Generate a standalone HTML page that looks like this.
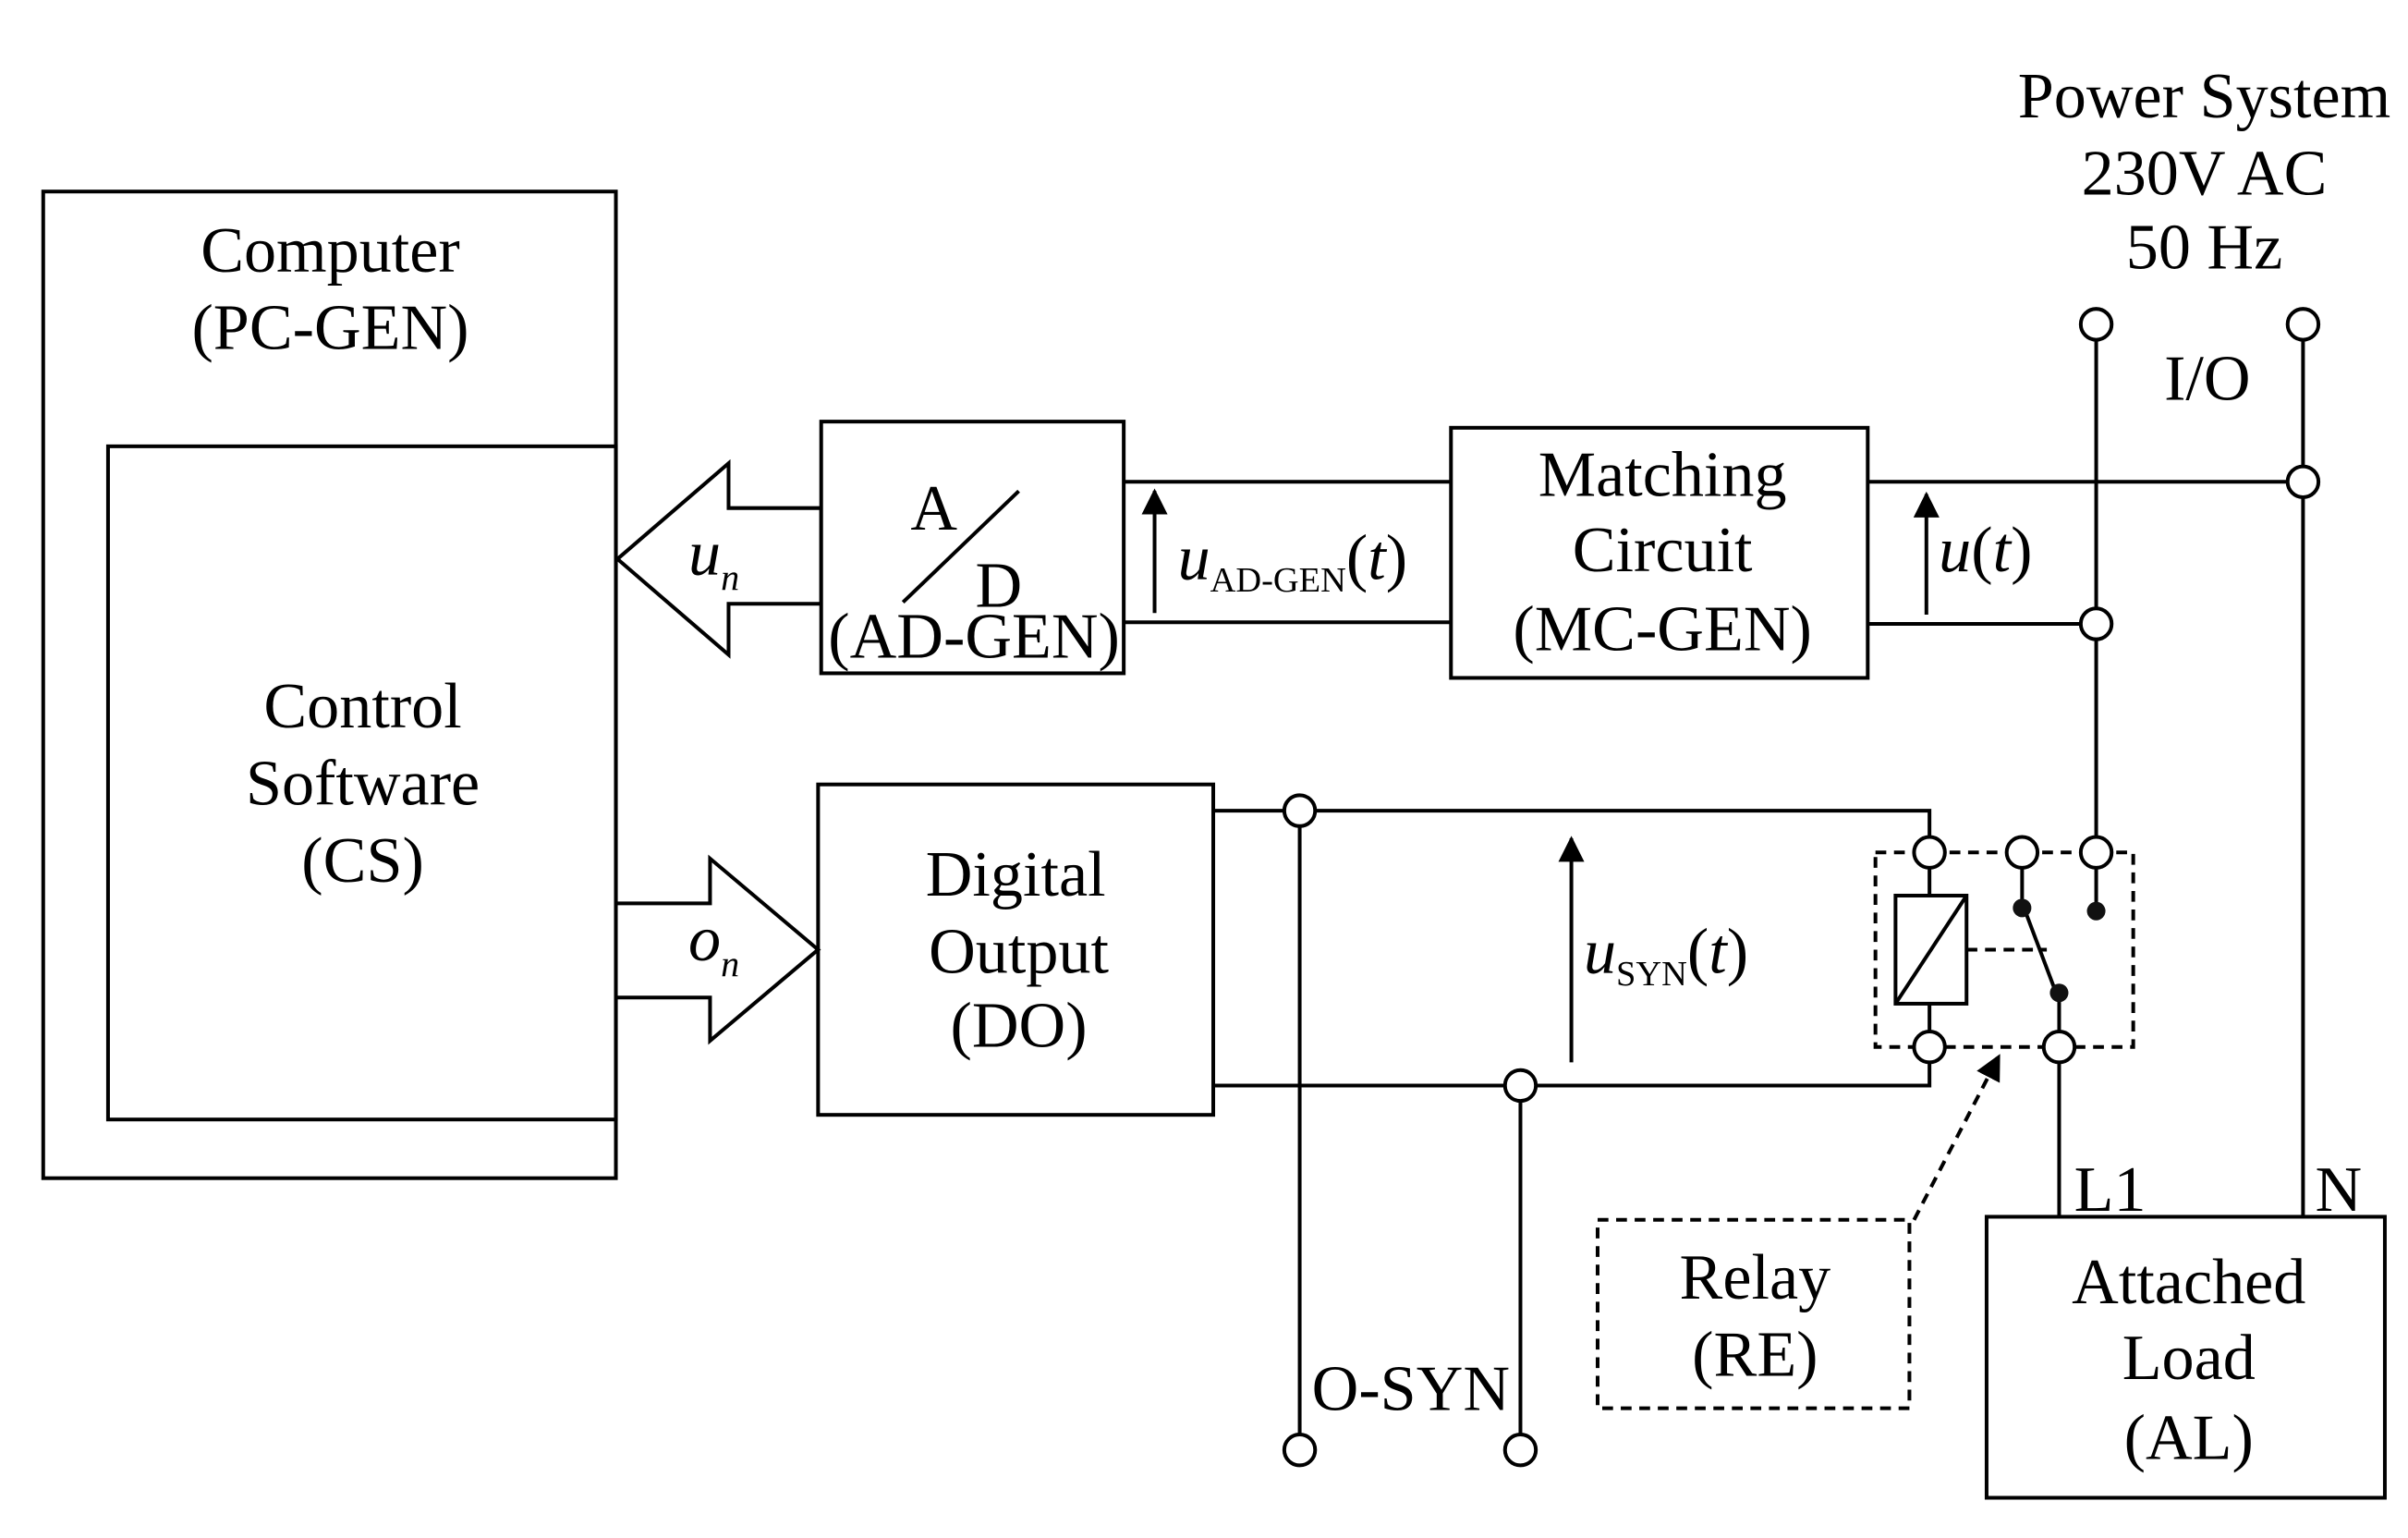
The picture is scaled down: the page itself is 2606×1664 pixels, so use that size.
<!DOCTYPE html>
<html><head><meta charset="utf-8"><style>
html,body{margin:0;padding:0;background:#fff}
svg{display:block}
text{font-family:"Liberation Serif",serif;fill:#000}
</style></head><body>
<svg width="2606" height="1664" viewBox="0 0 1560 996" xmlns="http://www.w3.org/2000/svg">
<defs><marker id="ah" viewBox="0 0 10 10" refX="9" refY="5" markerWidth="7" markerHeight="7" orient="auto-start-reverse"><path d="M0,0 L10,5 L0,10 z" fill="#000"/></marker></defs>
<g fill="none" stroke="#000" stroke-width="2.4">
<rect x="28" y="124" width="371" height="639"/>
<rect x="70" y="289" width="329" height="436"/>
<polygon points="400,362 472,300 472,329 532,329 532,391 472,391 472,424" fill="#fff"/>
<rect x="532" y="273" width="196" height="163" fill="#fff"/>
<line x1="585" y1="390" x2="660" y2="318"/>
<polyline points="728,312 940,312"/>
<polyline points="728,403 940,403"/>
<line x1="748" y1="397" x2="748" y2="318" marker-end="url(#ah)"/>
<rect x="940" y="277" width="270" height="162"/>
<line x1="1210" y1="312" x2="1482" y2="312"/>
<line x1="1210" y1="404" x2="1348" y2="404"/>
<line x1="1248" y1="398" x2="1248" y2="320" marker-end="url(#ah)"/>
<line x1="1358" y1="220" x2="1358" y2="394"/>
<line x1="1358" y1="414" x2="1358" y2="542"/>
<line x1="1492" y1="220" x2="1492" y2="302"/>
<line x1="1492" y1="322" x2="1492" y2="788"/>
<rect x="530" y="508" width="256" height="214"/>
<polygon points="399,585 460,585 460,556 530,615 460,674 460,646 399,646" fill="#fff"/>
<polyline points="786,525 1250,525 1250,542"/>
<polyline points="786,703 1250,703 1250,688"/>
<line x1="842" y1="535" x2="842" y2="929"/>
<line x1="985" y1="713" x2="985" y2="929"/>
<line x1="1018" y1="688" x2="1018" y2="543" marker-end="url(#ah)"/>
<rect x="1215" y="552" width="167" height="126" stroke-dasharray="7,5"/>
<rect x="1228" y="580" width="46" height="70" fill="#fff"/>
<line x1="1228" y1="650" x2="1274" y2="580"/>
<line x1="1250" y1="562" x2="1250" y2="580"/>
<line x1="1250" y1="650" x2="1250" y2="668"/>
<line x1="1310" y1="562" x2="1310" y2="588"/>
<line x1="1358" y1="562" x2="1358" y2="590"/>
<line x1="1312" y1="590" x2="1332" y2="643"/>
<line x1="1334" y1="643" x2="1334" y2="668"/>
<line x1="1274" y1="615" x2="1326" y2="615" stroke-dasharray="7,5"/>
<line x1="1334" y1="688" x2="1334" y2="788"/>
<line x1="1240" y1="790" x2="1295" y2="684" stroke-dasharray="7,5" marker-end="url(#ah)"/>
<rect x="1035" y="790" width="202" height="122" stroke-dasharray="7,5"/>
<rect x="1287" y="788" width="258" height="182"/>
<g fill="#fff">
<circle cx="1358" cy="210" r="10"/><circle cx="1492" cy="210" r="10"/>
<circle cx="1492" cy="312" r="10"/><circle cx="1358" cy="404" r="10"/>
<circle cx="842" cy="525" r="10"/><circle cx="985" cy="703" r="10"/>
<circle cx="842" cy="939" r="10"/><circle cx="985" cy="939" r="10"/>
<circle cx="1250" cy="552" r="10"/><circle cx="1310" cy="552" r="10"/><circle cx="1358" cy="552" r="10"/>
<circle cx="1250" cy="678" r="10"/><circle cx="1334" cy="678" r="10"/>
</g>
</g>
<g fill="#111"><circle cx="1310" cy="588" r="6"/><circle cx="1358" cy="590" r="6"/><circle cx="1334" cy="643" r="6"/></g>
<g font-size="42" text-anchor="middle">
<text x="214" y="176">Computer</text>
<text x="214" y="226">(PC-GEN)</text>
<text x="235" y="471">Control</text>
<text x="235" y="521">Software</text>
<text x="235" y="571">(CS)</text>
<text x="605" y="343">A</text>
<text x="647" y="393">D</text>
<text x="631" y="426">(AD-GEN)</text>
<text x="1077" y="321">Matching</text>
<text x="1077" y="370">Circuit</text>
<text x="1077" y="421">(MC-GEN)</text>
<text x="1428" y="76">Power System</text>
<text x="1428" y="126">230V AC</text>
<text x="1428" y="174">50 Hz</text>
<text x="1430" y="259">I/O</text>
<text x="658" y="580">Digital</text>
<text x="660" y="630">Output</text>
<text x="660" y="678">(DO)</text>
<text x="914" y="913">O-SYN</text>
<text x="1137" y="841">Relay</text>
<text x="1137" y="891">(RE)</text>
<text x="1418" y="844">Attached</text>
<text x="1418" y="893">Load</text>
<text x="1418" y="945">(AL)</text>
<text x="1367" y="784">L1</text>
<text x="1515" y="784">N</text>
</g>
<g font-size="42">
<text x="446" y="372" font-style="italic">u<tspan font-size="24" dy="10">n</tspan></text>
<text x="446" y="622" font-style="italic">o<tspan font-size="24" dy="10">n</tspan></text>
<text x="763" y="375"><tspan font-style="italic">u</tspan><tspan font-size="23" dy="8">AD-GEN</tspan><tspan dy="-8">(</tspan><tspan font-style="italic">t</tspan>)</text>
<text x="1256" y="370"><tspan font-style="italic">u</tspan>(<tspan font-style="italic">t</tspan>)</text>
<text x="1026" y="630"><tspan font-style="italic">u</tspan><tspan font-size="23" dy="8">SYN</tspan><tspan dy="-8">(</tspan><tspan font-style="italic">t</tspan>)</text>
</g>
</svg>
</body></html>
